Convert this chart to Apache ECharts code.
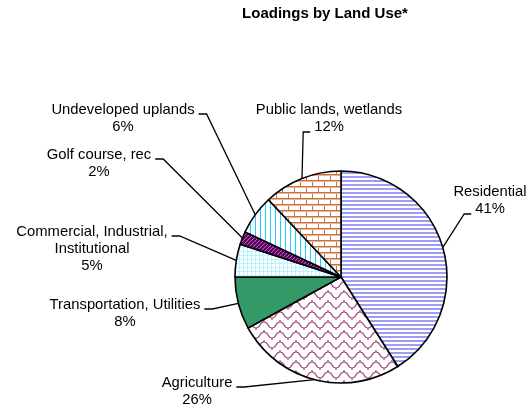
<!DOCTYPE html>
<html>
<head>
<meta charset="utf-8">
<script src="https://cdn.jsdelivr.net/npm/echarts@6/dist/echarts.min.js"></script>
<style>
  html, body { margin: 0; padding: 0; background: #fff; }
  #chart { width: 529px; height: 407px; }
</style>
</head>
<body>
<div id="chart"></div>
<script>
// data, clockwise from 12 o'clock
var landUses = ['Residential', 'Agriculture', 'Transportation, Utilities',
  'Commercial, Industrial,\nInstitutional', 'Golf course, rec',
  'Undeveloped uplands', 'Public lands, wetlands'];
var loadPct = [41, 26, 8, 5, 2, 6, 12];

// where each label sits: centre x, first line centre y, line the leader meets
var labelSpots = [
  [490, 192, 1],
  [197, 383, 0],
  [125, 305, 0],
  [92, 232, 0],
  [99, 155, 0],
  [123, 110, 0],
  [329, 110, 1]
];

var FONT = '"Liberation Sans", Arial, sans-serif';
var FSIZE = 14.8;
var LH = 17;

function tile(w, h, fn) {
  var c = document.createElement('canvas');
  c.width = w; c.height = h;
  var ctx = c.getContext('2d');
  fn(ctx, w, h);
  return { image: c, repeat: 'repeat' };
}

var fills = [
  tile(4, 4, function (ctx) {
    ctx.fillStyle = '#fff'; ctx.fillRect(0, 0, 4, 4);
    ctx.fillStyle = '#9d9df5'; ctx.fillRect(0, 0, 4, 2);
  }),
  tile(16, 10, function (ctx) {
    ctx.fillStyle = '#fff'; ctx.fillRect(0, 0, 16, 10);
    ctx.strokeStyle = '#a34a7e'; ctx.lineWidth = 1.2;
    ctx.beginPath();
    ctx.moveTo(0, 8);
    ctx.bezierCurveTo(5, 8, 3, 2, 8, 2);
    ctx.bezierCurveTo(13, 2, 11, 8, 16, 8);
    ctx.stroke();
    ctx.beginPath();
    ctx.moveTo(8, 2); ctx.lineTo(8, -1);
    ctx.moveTo(0, 8); ctx.lineTo(0, 11);
    ctx.moveTo(16, 8); ctx.lineTo(16, 11);
    ctx.stroke();
  }),
  '#339966',
  tile(4, 4, function (ctx) {
    ctx.fillStyle = '#fff'; ctx.fillRect(0, 0, 4, 4);
    ctx.fillStyle = '#b8f4ff'; ctx.fillRect(0, 3, 4, 1); ctx.fillRect(3, 0, 1, 4);
  }),
  tile(4, 4, function (ctx) {
    ctx.fillStyle = '#660066'; ctx.fillRect(0, 0, 4, 4);
    ctx.strokeStyle = '#a070b0'; ctx.lineWidth = 1;
    ctx.beginPath();
    ctx.moveTo(0, 4); ctx.lineTo(4, 0);
    ctx.moveTo(-2, 2); ctx.lineTo(2, -2);
    ctx.moveTo(2, 6); ctx.lineTo(6, 2);
    ctx.stroke();
  }),
  tile(5, 4, function (ctx) {
    ctx.fillStyle = '#fff'; ctx.fillRect(0, 0, 5, 4);
    ctx.fillStyle = '#22ccff'; ctx.fillRect(0, 0, 1, 4);
  }),
  tile(12, 12, function (ctx) {
    ctx.fillStyle = '#fff'; ctx.fillRect(0, 0, 12, 12);
    ctx.fillStyle = '#cc7044';
    ctx.fillRect(0, 0, 12, 1); ctx.fillRect(0, 6, 12, 1);
    ctx.fillRect(0, 0, 1, 6); ctx.fillRect(6, 6, 1, 6);
    ctx.fillStyle = '#e8b494';
    ctx.fillRect(0, 1, 12, 1); ctx.fillRect(0, 7, 12, 1);
  })
];

var measurer = document.createElement('canvas').getContext('2d');
measurer.font = FSIZE + 'px ' + FONT;
function textWidth(s) { return measurer.measureText(s).width; }

var pieData = [];
for (var i = 0; i < landUses.length; i++) {
  pieData.push({ name: landUses[i], value: loadPct[i], itemStyle: { color: fills[i] } });
}

var myChart = echarts.init(document.getElementById('chart'));
var option = {
  backgroundColor: '#fff',
  animation: false,
  title: {
    text: 'Loadings by Land Use*',
    left: 325,
    top: 6,
    padding: 0,
    textAlign: 'center',
    textStyle: { fontFamily: FONT, fontSize: 15, fontWeight: 'bold', color: '#000' }
  },
  series: [{
    type: 'pie',
    center: [341, 277],
    radius: 106,
    startAngle: 90,
    clockwise: true,
    avoidLabelOverlap: false,
    data: pieData,
    itemStyle: { borderColor: '#000', borderWidth: 1.6 },
    emphasis: { disabled: true },
    label: {
      show: true,
      position: 'outside',
      width: 220,
      formatter: function (p) { return p.name + '\n' + p.value + '%'; },
      fontFamily: FONT,
      fontSize: FSIZE,
      lineHeight: LH,
      color: '#000'
    },
    labelLine: { show: true, lineStyle: { color: '#000', width: 1.3 } },
    labelLayout: function (params) {
      var k = params.dataIndex;
      var spot = labelSpots[k];
      var lines = (landUses[k] + '\n' + loadPct[k] + '%').split('\n');
      var cx = spot[0], y0 = spot[1];
      var start = params.labelLinePoints[0];
      var lineY = y0 + spot[2] * LH;
      var w = textWidth(lines[spot[2]]);
      var end, elbow;
      if (cx < start[0] - 20) {
        end = [cx + w / 2 + 4, lineY + 4];
        elbow = [end[0] + 8, end[1]];
      } else {
        end = [cx - w / 2 - 4, lineY + 5];
        elbow = [end[0] - 7, end[1]];
      }
      return {
        x: cx,
        y: y0 - LH / 2,
        align: 'center',
        verticalAlign: 'top',
        labelLinePoints: [start, elbow, end]
      };
    }
  }]
};
myChart.setOption(option);
window.addEventListener('resize', function () { myChart.resize(); });
</script>
</body>
</html>
